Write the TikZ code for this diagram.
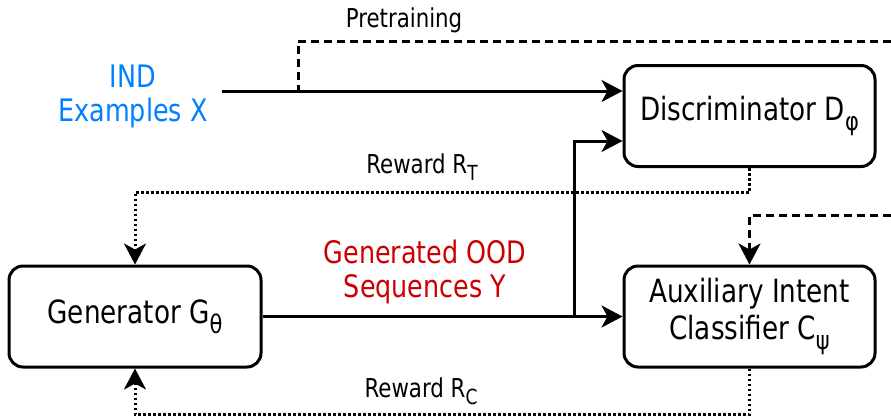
\documentclass[tikz,border=0pt]{standalone}
\usepackage{fontspec}
\setmainfont{DejaVu Sans}[FakeStretch=0.82]
\usetikzlibrary{arrows.meta}
\definecolor{indblue}{RGB}{0,127,255}
\definecolor{oodred}{RGB}{204,0,0}
% lowered, slightly smaller subscript set in the text font
\newcommand\lowsub[1]{\raisebox{-0.3em}{\scalebox{0.8}{#1}}}

\begin{document}
\begin{tikzpicture}[x=1pt,y=-1pt,
  block/.style={draw, line width=3pt, rounded corners=14pt,
    minimum width=251pt, minimum height=101pt, align=center,
    font=\fontsize{32}{37}\selectfont},
  lbl/.style={align=center, inner sep=0pt, font=\fontsize{31}{34}\selectfont},
  edgelbl/.style={inner sep=0pt, anchor=base, font=\fontsize{26}{30}\selectfont},
  tip/.style={-{Stealth[length=21pt,width=22pt,inset=6pt]}},
  flow/.style={line width=3pt, tip},
  dashline/.style={line width=3pt, dash pattern=on 8pt off 5pt},
  reward/.style={line width=3pt, dash pattern=on 2.5pt off 2.5pt, tip}
]
\useasboundingbox (0,0) rectangle (891,418);

% modules
\node[block] (disc) at (749.5,116) {Discriminator D\lowsub{φ}};
\node[block] (aux) at (749.5,316.5) {Auxiliary Intent\\Classifier C\lowsub{ψ}};
\node[block, minimum width=252pt] (gen) at (135,316.5) {Generator G\lowsub{θ}};

% data labels
\node[lbl, text=indblue] (ind) at (133,96) {IND\\Examples X};
\node[lbl, text=oodred] (ood) at (425,272) {Generated OOD\\Sequences Y};

% edge labels
\node[edgelbl] (pre) at (404,27) {Pretraining};
\node[edgelbl] (rt) at (422,173) {Reward R\lowsub{T}};
\node[edgelbl] (rc) at (421,397) {Reward R\lowsub{C}};

% free ends and junctions
\coordinate (src) at (222,91);
\coordinate (fork) at (298,91);
\coordinate (pretopA) at (891,41);
\coordinate (pretopB) at (891,215);
\coordinate (split) at (574,316.5);

% IND examples into the discriminator
\draw[flow] (src) -- ([yshift=25pt]disc.west);
% pretraining branch
\draw[dashline] (pretopA) -| (fork);
\draw[dashline, tip] (pretopB) -| (aux.north);
% generated sequences
\draw[flow] (gen.east) -- (aux.west);
\draw[flow] (split) |- ([yshift=-25pt]disc.west);
% rewards back to the generator
\draw[reward] (disc.south) -- ++(0,24) -| (gen.north);
\draw[reward] (aux.south) -- ++(0,46) -| (gen.south);
\end{tikzpicture}
\end{document}
